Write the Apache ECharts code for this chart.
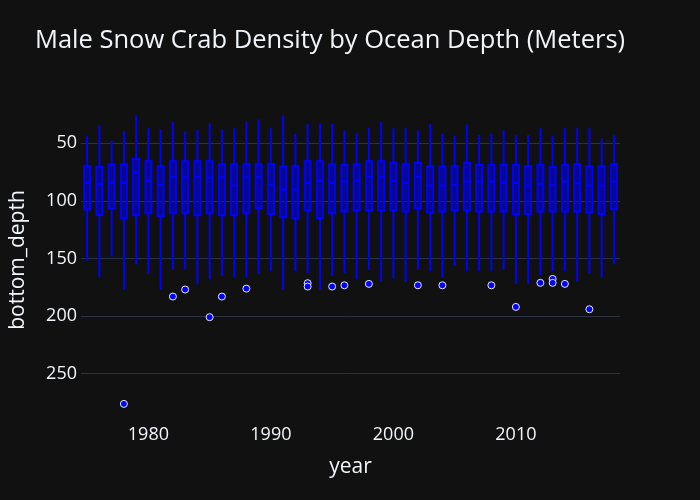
<!DOCTYPE html>
<html>
<head>
<meta charset="utf-8">
<script src="https://cdn.jsdelivr.net/npm/echarts@6/dist/echarts.min.js"></script>
<style>
html,body{margin:0;padding:0;background:#111111;}
#chart{width:700px;height:500px;}
</style>
</head>
<body>
<div id="chart"></div>
<script>
const years = [1975,1976,1977,1978,1979,1980,1981,1982,1983,1984,1985,1986,1987,1988,1989,1990,1991,1992,1993,1994,1995,1996,1997,1998,1999,2000,2001,2002,2003,2004,2005,2006,2007,2008,2009,2010,2011,2012,2013,2014,2015,2016,2017,2018];
const lowerWhisker = [43.9,34.7,47.7,39.6,26,37,37.8,30.9,39.6,37.8,32.6,37.6,37,30.9,29.2,37,26,41.9,32.9,32.9,32.9,39,41,37,30.9,37,37,38.7,32.9,41.9,43.6,33.8,42.8,41.9,38.7,42.8,42.8,37,43.6,37,37,37,46,42.8];
const q1 = [70,70.3,68.5,67.9,63.6,65.6,70,65.6,65.6,65.6,65.6,67.9,67.9,67.9,67.9,67.9,70,70,65.6,65.6,67.9,68.8,67.9,65.6,65.6,66.8,67.9,66.8,70,70,70,66.8,68.8,68.8,68.8,68.8,70,68.8,70.5,68.8,67.9,70,70,67.9];
const median = [84.1,85.3,84.1,84.1,75.2,82.4,86.2,78.9,79.5,78.9,79.8,79.5,86.7,79.5,79.5,86.2,90.2,90.2,84.1,82.4,84.1,83.3,82.4,78.9,79.5,82.4,84.1,78.9,86.7,86.7,86.2,83.3,83.3,83.3,84.1,84.1,86.7,85.3,86.2,83.3,84.7,86.7,86.7,83.3];
const q3 = [107.6,112.2,106.4,115.1,112.5,110.8,113.4,110.8,110.8,112.5,110.8,112.5,112.5,110.8,106.4,111.6,114.2,115.4,108.4,115.1,110.8,109.3,108.4,108.4,108.4,108.4,109.3,106.4,110.2,109.3,108.4,108.4,109.3,109.3,109.3,111.3,111.3,109.3,109.3,109.3,109.3,110.2,111.3,107.3];
const upperWhisker = [152.1,166.3,148.4,177,155.3,163.4,177,159.4,159.4,172.4,168.1,165.2,166.3,166.3,163.4,161.1,177,161.1,162.8,177,165.2,162.6,168.1,160.2,169.8,167.5,170.4,160,161.1,166.9,156.2,161.1,161.1,161.1,160,172.1,172.1,164.3,161.1,161.1,170.1,163.1,166.3,154.5];
const outlierYears = [1978,1982,1983,1985,1986,1988,1993,1993,1995,1996,1998,2002,2004,2008,2010,2012,2013,2013,2014,2016];
const outlierValues = [276.3,183.1,177,201,183.1,176.2,171.5,174.4,174.4,173.3,172.1,173.3,173.3,173.3,192.1,171.2,167.8,171.2,172.1,194.1];
const yTicks = [50,100,150,200,250];

const FONT = '"Open Sans", "Noto Sans", sans-serif';
const TXT = '#f2f5fa';
const BLUE = '#0000ff';

const boxData = years.map((y, i) => [i, lowerWhisker[i], q1[i], median[i], q3[i], upperWhisker[i]]);
const outlierData = outlierYears.map((y, i) => [String(y), outlierValues[i]]);

const chart = echarts.init(document.getElementById('chart'), null, {renderer: 'canvas'});
chart.setOption({
  backgroundColor: '#111111',
  animation: false,
  title: {
    text: 'Male Snow Crab Density by Ocean Depth (Meters)',
    left: 35, top: 28, padding: 0,
    textStyle: {color: TXT, fontFamily: FONT, fontSize: 25.5, fontWeight: 'normal'}
  },
  grid: {left: 80, right: 80, top: 100, bottom: 80},
  xAxis: {
    type: 'category',
    data: years.map(String),
    boundaryGap: true,
    name: 'year',
    nameLocation: 'middle',
    nameGap: 37,
    nameTextStyle: {color: TXT, fontFamily: FONT, fontSize: 21},
    axisLine: {show: false},
    axisTick: {show: false},
    splitLine: {show: false},
    axisLabel: {
      color: TXT, fontFamily: FONT, fontSize: 18, margin: 6,
      interval: (idx, val) => Number(val) % 10 === 0
    }
  },
  yAxis: {
    type: 'value',
    inverse: true,
    min: 12.4,
    max: 290.3,
    splitNumber: 5,
    name: 'bottom_depth',
    nameLocation: 'middle',
    nameGap: 52,
    nameTextStyle: {color: TXT, fontFamily: FONT, fontSize: 21},
    axisLine: {show: false},
    axisTick: {show: false},
    axisLabel: {
      color: TXT, fontFamily: FONT, fontSize: 18, margin: 4,
      showMinLabel: false, showMaxLabel: false,
      formatter: v => yTicks.includes(v) ? String(v) : ''
    },
    splitLine: {show: true, showMinLine: false, showMaxLine: false, lineStyle: {color: '#283442', width: 1}}
  },
  series: [
    {
      type: 'custom',
      data: boxData,
      encode: {x: 0, y: [1, 2, 3, 4, 5]},
      renderItem: function (params, api) {
        const xi = api.value(0);
        const lo = api.coord([xi, api.value(1)]);
        const a = api.coord([xi, api.value(2)]);
        const md = api.coord([xi, api.value(3)]);
        const b = api.coord([xi, api.value(4)]);
        const hi = api.coord([xi, api.value(5)]);
        const x = lo[0];
        const half = 3;
        const ls = {stroke: BLUE, lineWidth: 2, fill: null};
        return {
          type: 'group',
          children: [
            {type: 'line', shape: {x1: x, y1: lo[1], x2: x, y2: a[1]}, style: ls},
            {type: 'line', shape: {x1: x, y1: b[1], x2: x, y2: hi[1]}, style: ls},
            {type: 'rect', shape: {x: x - half, y: Math.min(a[1], b[1]), width: half * 2, height: Math.abs(b[1] - a[1])},
             style: {fill: 'rgba(0,0,255,0.5)', stroke: BLUE, lineWidth: 2}},
            {type: 'line', shape: {x1: x - half, y1: md[1], x2: x + half, y2: md[1]}, style: ls}
          ]
        };
      }
    },
    {
      type: 'scatter',
      data: outlierData,
      symbol: 'circle',
      symbolSize: 7,
      itemStyle: {color: BLUE, borderColor: '#e8e8ff', borderWidth: 1, opacity: 1}
    }
  ]
});
</script>
</body>
</html>
